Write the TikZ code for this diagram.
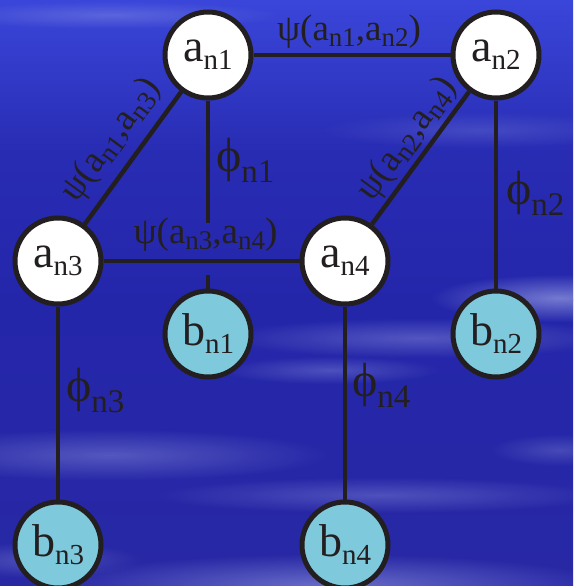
\documentclass[tikz,border=0pt]{standalone}
\usepackage{fontspec}
\setmainfont{Liberation Serif}
\usetikzlibrary{fadings}
\definecolor{ink}{HTML}{231F20}
\definecolor{bfill}{HTML}{7EC9DC}
\definecolor{bgtop}{RGB}{58,70,218}
\definecolor{bgmid}{RGB}{36,38,170}
\definecolor{bgbot}{RGB}{40,40,165}
\definecolor{streak}{RGB}{170,178,235}
\tikzfading[name=soft, inner color=transparent!0, outer color=transparent!100]
\newcommand\sbx[3]{\raisebox{#1}{\fontsize{#2}{#2}\selectfont #3}}
\newcommand\nsub[1]{\sbx{-8pt}{29}{#1}}
\newcommand\lsub[1]{\sbx{-6pt}{27}{#1}}
\newcommand\psub[1]{\sbx{-11pt}{33}{#1}}
\tikzset{
  vnode/.style={circle, draw=ink, line width=5pt, minimum size=86pt, inner sep=0pt,
    text=ink, font=\fontsize{46}{46}\selectfont},
  anode/.style={vnode, fill=white},
  bnode/.style={vnode, fill=bfill},
  conn/.style={draw=ink, line width=4.5pt},
  psilbl/.style={text=ink, inner sep=0pt, font=\fontsize{37}{37}\selectfont},
  philbl/.style={text=ink, inner sep=0pt, font=\fontsize{48}{48}\selectfont, anchor=base west},
  streakfill/.style={fill=streak, path fading=soft}
}
\begin{document}
\begin{tikzpicture}[x=1pt, y=-1pt]
\useasboundingbox (0,0) rectangle (573,586);
% background
\shade[top color=bgtop, bottom color=bgmid, middle color=bgmid!80!bgtop] (0,0) rectangle (573,300);
\shade[top color=bgmid, bottom color=bgbot] (0,300) rectangle (573,586);
\begin{scope}
\clip (0,0) rectangle (573,586);
\fill[streakfill, opacity=0.3] (110,15) ellipse (170 and 14);
\fill[streakfill, opacity=0.2] (480,130) ellipse (160 and 18);
\fill[streakfill, opacity=0.6] (560,298) ellipse (130 and 24);
\fill[streakfill, opacity=0.35] (420,338) ellipse (200 and 20);
\fill[streakfill, opacity=0.3] (330,370) ellipse (110 and 14);
\fill[streakfill, opacity=0.35] (110,455) ellipse (220 and 26);
\fill[streakfill, opacity=0.25] (560,450) ellipse (70 and 16);
\fill[streakfill, opacity=0.3] (380,495) ellipse (230 and 18);
\fill[streakfill, opacity=0.5] (330,586) ellipse (280 and 32);
\fill[streakfill, opacity=0.3] (40,560) ellipse (100 and 18);
\end{scope}
% nodes
\node[anode] (a1) at (208,55) {a\nsub{n1}};
\node[anode] (a2) at (496,55) {a\nsub{n2}};
\node[anode] (a3) at (58,261) {a\nsub{n3}};
\node[anode] (a4) at (345,261) {a\nsub{n4}};
\node[bnode] (b1) at (208,334) {b\nsub{n1}};
\node[bnode] (b2) at (496,334) {b\nsub{n2}};
\node[bnode] (b3) at (58,545) {b\nsub{n3}};
\node[bnode] (b4) at (345,545) {b\nsub{n4}};
\coordinate (g1) at (208,223);
\coordinate (g2) at (208,275);
% connectors
\draw[conn] (a1) -- (a2);
\draw[conn] (a1) -- (a3);
\draw[conn] (a2) -- (a4);
\draw[conn] (a3) -- (a4);
\draw[conn] (a1) -- (g1);
\draw[conn] (g2) -- (b1);
\draw[conn] (a2) -- (b2);
\draw[conn] (a3) -- (b3);
\draw[conn] (a4) -- (b4);
% labels
\node[psilbl, anchor=base] (l12) at (349,41) {ψ(a\lsub{n1},a\lsub{n2})};
\node[psilbl, anchor=base] (l34) at (205.5,243) {ψ(a\lsub{n3},a\lsub{n4})};
\node[psilbl, rotate=53.9] (l13) at (111.5,140) {ψ(a\lsub{n1},a\lsub{n3})};
\node[psilbl, rotate=53.9] (l24) at (407.5,139) {ψ(a\lsub{n2},a\lsub{n4})};
\node[philbl] (p1) at (216,171) {ϕ\psub{n1}};
\node[philbl] (p2) at (506,204) {ϕ\psub{n2}};
\node[philbl] (p3) at (66,401) {ϕ\psub{n3}};
\node[philbl] (p4) at (352,396) {ϕ\psub{n4}};
\end{tikzpicture}
\end{document}
